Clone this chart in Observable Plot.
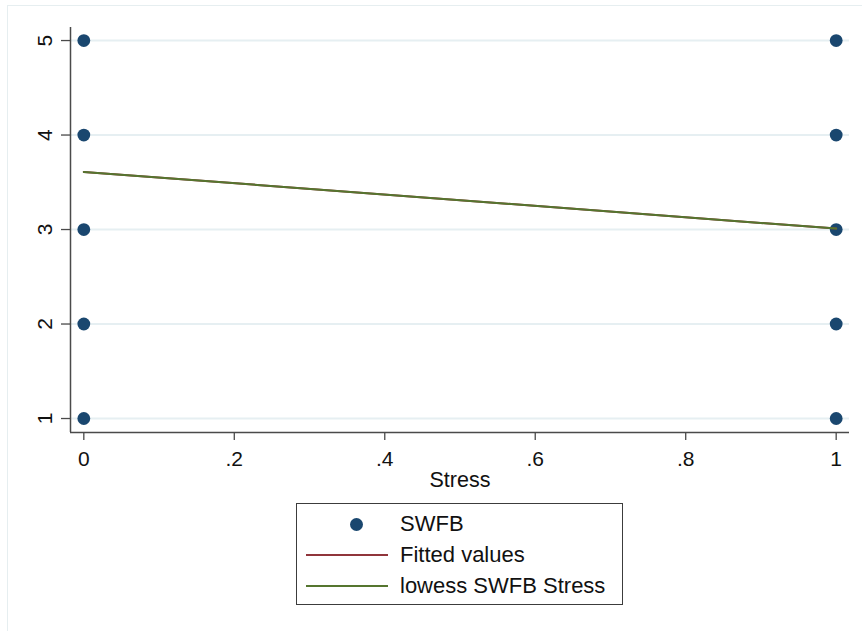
<!DOCTYPE html>
<html>
<head>
<meta charset="utf-8">
<script src="https://cdn.jsdelivr.net/npm/d3@7"></script>
<script src="https://cdn.jsdelivr.net/npm/@observablehq/plot@0.6"></script>
<style>
  html, body { margin: 0; padding: 0; background: #fff; }
  body { font-family: "Liberation Sans", Arial, sans-serif; }
  #wrap { position: relative; width: 862px; height: 631px; overflow: hidden; background: #fff; }
  #frame { position: absolute; left: 7px; top: 5px; width: 900px; height: 700px;
           border-left: 1.5px solid #e6eef0; border-top: 1.5px solid #e6eef0; }
  #chart { position: absolute; left: 0; top: 0; }
  #legend { position: absolute; left: 296px; top: 503px; width: 325px; height: 100px;
            border: 1.5px solid #3c3c3c; box-sizing: content-box; background: #fff; }
  .row { position: absolute; left: 0; height: 30px; width: 100%; }
  .sw { position: absolute; left: 9px; width: 82px; top: 0; height: 30px; }
  .lbl { position: absolute; left: 103px; top: 0; line-height: 30px; font-size: 22px; color: #111; white-space: nowrap; }
  .dotsw { position: absolute; left: 44px; top: 8.5px; width: 13px; height: 13px; border-radius: 50%; background: #1a476f; }
  .linesw { position: absolute; left: 0; width: 82px; top: 14px; height: 2px; }
</style>
</head>
<body>
<div id="wrap">
  <div id="frame"></div>
  <div id="chart"></div>
  <div id="legend"></div>
</div>
<script>
// ---- data ----
const stress = [0, 0, 0, 0, 0, 1, 1, 1, 1, 1];
const swfb   = [1, 2, 3, 4, 5, 1, 2, 3, 4, 5];
const fitX = [0, 1];
const fitY = [3.61, 3.01];
const lowessX = [0, 1];
const lowessY = [3.61, 3.01];
const xTicks = [0, 0.2, 0.4, 0.6, 0.8, 1];
const xTickLabels = ["0", ".2", ".4", ".6", ".8", "1"];
const yTicks = [1, 2, 3, 4, 5];
const yTickLabels = ["1", "2", "3", "4", "5"];
const xTitle = "Stress";
const legendLabels = ["SWFB", "Fitted values", "lowess SWFB Stress"];

const colors = { dot: "#1a476f", fit: "#90353b", lowess: "#55752f", grid: "#e6eff2", axis: "#4a4a4a" };

const points = stress.map((x, i) => ({ x, y: swfb[i] }));
const fitted = fitX.map((x, i) => ({ x, y: fitY[i] }));
const lowess = lowessX.map((x, i) => ({ x, y: lowessY[i] }));

const xDom = [-0.0177, 1.0177];
const yDom = [0.852, 5.138];

const plot = Plot.plot({
  width: 862,
  height: 500,
  marginLeft: 70,
  marginRight: 13,
  marginTop: 27,
  marginBottom: 68,
  style: { fontFamily: '"Liberation Sans", Arial, sans-serif', background: "transparent", overflow: "visible" },
  x: { domain: xDom, axis: null },
  y: { domain: yDom, axis: null },
  marks: [
    Plot.ruleY(yTicks, { y: d => d, x1: xDom[0], x2: xDom[1], stroke: colors.grid, strokeWidth: 2 }),
    Plot.axisY(yTicks, { tickSize: 9, tickFormat: () => "", label: null, stroke: colors.axis, strokeWidth: 1.3 }),
    Plot.axisX(xTicks, { tickSize: 8, tickFormat: () => "", label: null, stroke: colors.axis, strokeWidth: 1.3 }),
    Plot.ruleX([xDom[0]], { y1: yDom[0], y2: yDom[1], stroke: colors.axis, strokeWidth: 1.5 }),
    Plot.ruleY([yDom[0]], { x1: xDom[0], x2: xDom[1], stroke: colors.axis, strokeWidth: 1.5 }),
    Plot.text(yTicks, { y: d => d, text: (d, i) => yTickLabels[i], frameAnchor: "left", dx: -25, rotate: -90,
      textAnchor: "middle", lineAnchor: "middle", fontSize: 21, fill: "#111" }),
    Plot.text(xTicks, { x: d => d, text: (d, i) => xTickLabels[i], frameAnchor: "bottom", dy: 27,
      textAnchor: "middle", lineAnchor: "middle", fontSize: 21, fill: "#111" }),
    Plot.text([xTitle], { text: d => d, frameAnchor: "bottom", dy: 48, lineAnchor: "middle", fontSize: 21.5, fill: "#111" }),
    Plot.dot(points, { x: "x", y: "y", r: 6.4, fill: colors.dot, stroke: "none" }),
    Plot.line(fitted, { x: "x", y: "y", stroke: colors.fit, strokeWidth: 2 }),
    Plot.line(lowess, { x: "x", y: "y", stroke: colors.lowess, strokeWidth: 2 })
  ]
});
document.getElementById("chart").appendChild(plot);

// ---- legend ----
const legend = document.getElementById("legend");
const kinds = ["dot", "fit", "lowess"];
legendLabels.forEach((label, i) => {
  const row = document.createElement("div");
  row.className = "row";
  row.style.top = (5 + i * 31) + "px";
  const sw = document.createElement("div");
  sw.className = "sw";
  const mark = document.createElement("div");
  if (kinds[i] === "dot") {
    mark.className = "dotsw";
  } else {
    mark.className = "linesw";
    mark.style.background = colors[kinds[i]];
  }
  sw.appendChild(mark);
  const lbl = document.createElement("div");
  lbl.className = "lbl";
  lbl.textContent = label;
  row.appendChild(sw);
  row.appendChild(lbl);
  legend.appendChild(row);
});
</script>
</body>
</html>
